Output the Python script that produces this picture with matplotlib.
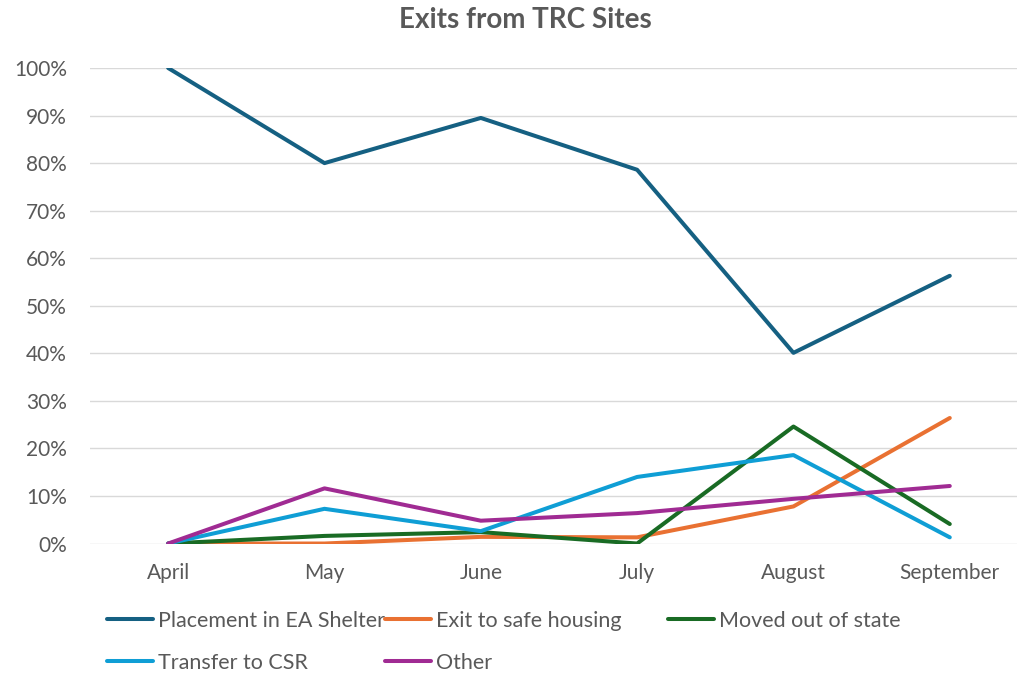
import matplotlib.pyplot as plt
from matplotlib.ticker import PercentFormatter

plt.rcParams['font.family'] = ['Lato', 'DejaVu Sans']

months = ["April", "May", "June", "July", "August", "September"]
placement_ea = [100.0, 80.0, 89.5, 78.6, 40.1, 56.3]
safe_housing = [0.0, 0.0, 1.4, 1.3, 7.8, 26.4]
moved_out = [0.0, 1.6, 2.4, 0.0, 24.6, 4.1]
transfer_csr = [0.0, 7.3, 2.6, 14.0, 18.6, 1.3]
other = [0.0, 11.6, 4.8, 6.4, 9.4, 12.1]

series = [
    ("Placement in EA Shelter", placement_ea, "#156082"),
    ("Exit to safe housing", safe_housing, "#E97132"),
    ("Moved out of state", moved_out, "#196B24"),
    ("Transfer to CSR", transfer_csr, "#0F9ED5"),
    ("Other", other, "#A02B93"),
]

txt = "#595959"
fig = plt.figure(figsize=(10.17, 6.74), dpi=100)
ax = fig.add_axes([90 / 1017, 130 / 674, 927 / 1017, 476 / 674])

x = range(len(months))
handles = []
for name, vals, col in series:
    h, = ax.plot(x, [v / 100 for v in vals], color=col, lw=2.9,
                 solid_capstyle="round", solid_joinstyle="round", label=name)
    handles.append(h)

ax.set_xlim(-0.5, 5.43)
ax.set_ylim(-0.001, 1.0)
ax.set_yticks([i / 10 for i in range(11)])
ax.yaxis.set_major_formatter(PercentFormatter(1.0, decimals=0))
ax.set_xticks(list(x))
ax.set_xticklabels(months)
ax.grid(axis="y", color="#D9D9D9", lw=1)
ax.set_axisbelow(True)
for s in ax.spines.values():
    s.set_visible(False)
ax.tick_params(length=0, labelsize=15, colors=txt)
ax.tick_params(axis="y", pad=16.5)
ax.tick_params(axis="x", pad=14)

fig.suptitle("Exits from TRC Sites", x=0.517, y=0.99, fontsize=20,
             fontweight="bold", color=txt)

# legend entries laid out like the original (3 columns, 2 rows)
pos = [(107, 621), (385, 621), (668, 621), (107, 663), (385, 663)]
for h, (px, py) in zip(handles, pos):
    fig.legend(handles=[h], loc="center left",
               bbox_to_anchor=(px / 1017, 1 - py / 674), frameon=False,
               fontsize=15.5, labelcolor=txt, handlelength=2.15,
               handletextpad=0.2, borderpad=0, borderaxespad=0)

fig.savefig("out.png", dpi=100)
